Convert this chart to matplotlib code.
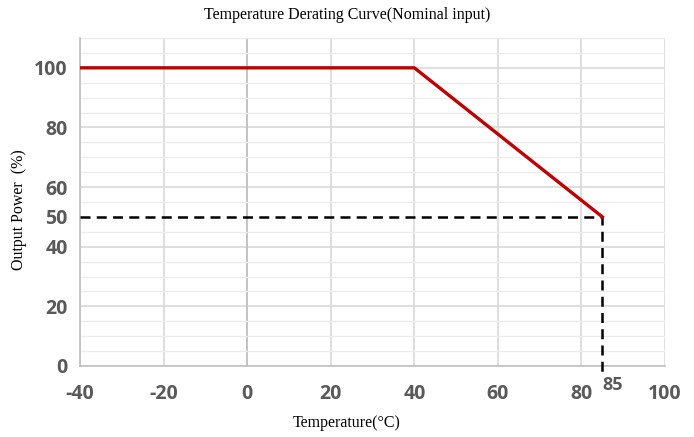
import matplotlib.pyplot as plt
from matplotlib.ticker import MultipleLocator

# derating curve points
temp = [-40, 40, 85]
power = [100, 100, 50]

# dashed guide at the 85 degC / 50 % corner
guide_x = [-40, 85, 85]
guide_y = [50, 50, -2]

xticks = [-40, -20, 0, 20, 40, 60, 80, 100]
yticks = [0, 20, 40, 50, 60, 80, 100]


def plot_curve():
    plt.rcParams['axes.unicode_minus'] = False
    fig = plt.figure(figsize=(6.94, 4.37), dpi=100)
    ax = fig.add_axes([0.1153, 0.1625, 0.843, 0.7505])

    ax.set_xlim(-40, 100)
    ax.set_ylim(0, 110)

    # grid: light lines every 5 %, darker ones on the labelled ticks
    ax.yaxis.set_minor_locator(MultipleLocator(5))
    ax.grid(which='minor', axis='y', color='#ececec', linewidth=1.0)
    for y in [0, 20, 40, 60, 80, 100]:
        ax.axhline(y, color='#d9d9d9', linewidth=1.2, zorder=1)
    for x in xticks:
        ax.axvline(x, color='#d9d9d9', linewidth=1.2, zorder=1)
    ax.axvline(0, color='#bfbfbf', linewidth=1.2, zorder=1)

    ax.plot(guide_x, guide_y, color='black', linestyle=(0, (4, 2.5)),
            linewidth=1.8, clip_on=False, zorder=3)
    ax.plot(temp, power, color='#c00000', linewidth=2.4, zorder=4)

    ax.set_xticks(xticks)
    ax.set_yticks(yticks)
    ax.tick_params(axis='both', which='both', length=0, labelsize=14,
                   labelcolor='#595959')
    ax.tick_params(axis='x', pad=13)
    ax.tick_params(axis='y', pad=9)
    for lab in ax.get_xticklabels() + ax.get_yticklabels():
        lab.set_fontfamily('Open Sans')
        lab.set_fontweight('bold')

    ax.annotate('85', xy=(85, 0), xytext=(0, -14), textcoords='offset points',
                ha='left', va='center', fontsize=13, color='#595959',
                fontfamily='Open Sans', fontweight='bold', annotation_clip=False)

    for side in ['top', 'right']:
        ax.spines[side].set_visible(False)
    ax.spines['left'].set_color('#bfbfbf')
    ax.spines['bottom'].set_color('#bfbfbf')
    ax.spines['left'].set_linewidth(1.2)
    ax.spines['bottom'].set_linewidth(1.2)

    fig.text(0.5, 0.965, 'Temperature Derating Curve(Nominal input)',
             ha='center', va='center', fontsize=11.5,
             fontfamily='Liberation Serif')
    fig.text(0.5, 0.033, 'Temperature(°C)', ha='center', va='center',
             fontsize=11.5, fontfamily='Liberation Serif')
    fig.text(0.027, 0.52, 'Output Power  (%)', ha='center', va='center',
             rotation=90, fontsize=11.5, fontfamily='Liberation Serif')

    fig.savefig('out.png', dpi=100)


if __name__ == '__main__':
    plot_curve()
